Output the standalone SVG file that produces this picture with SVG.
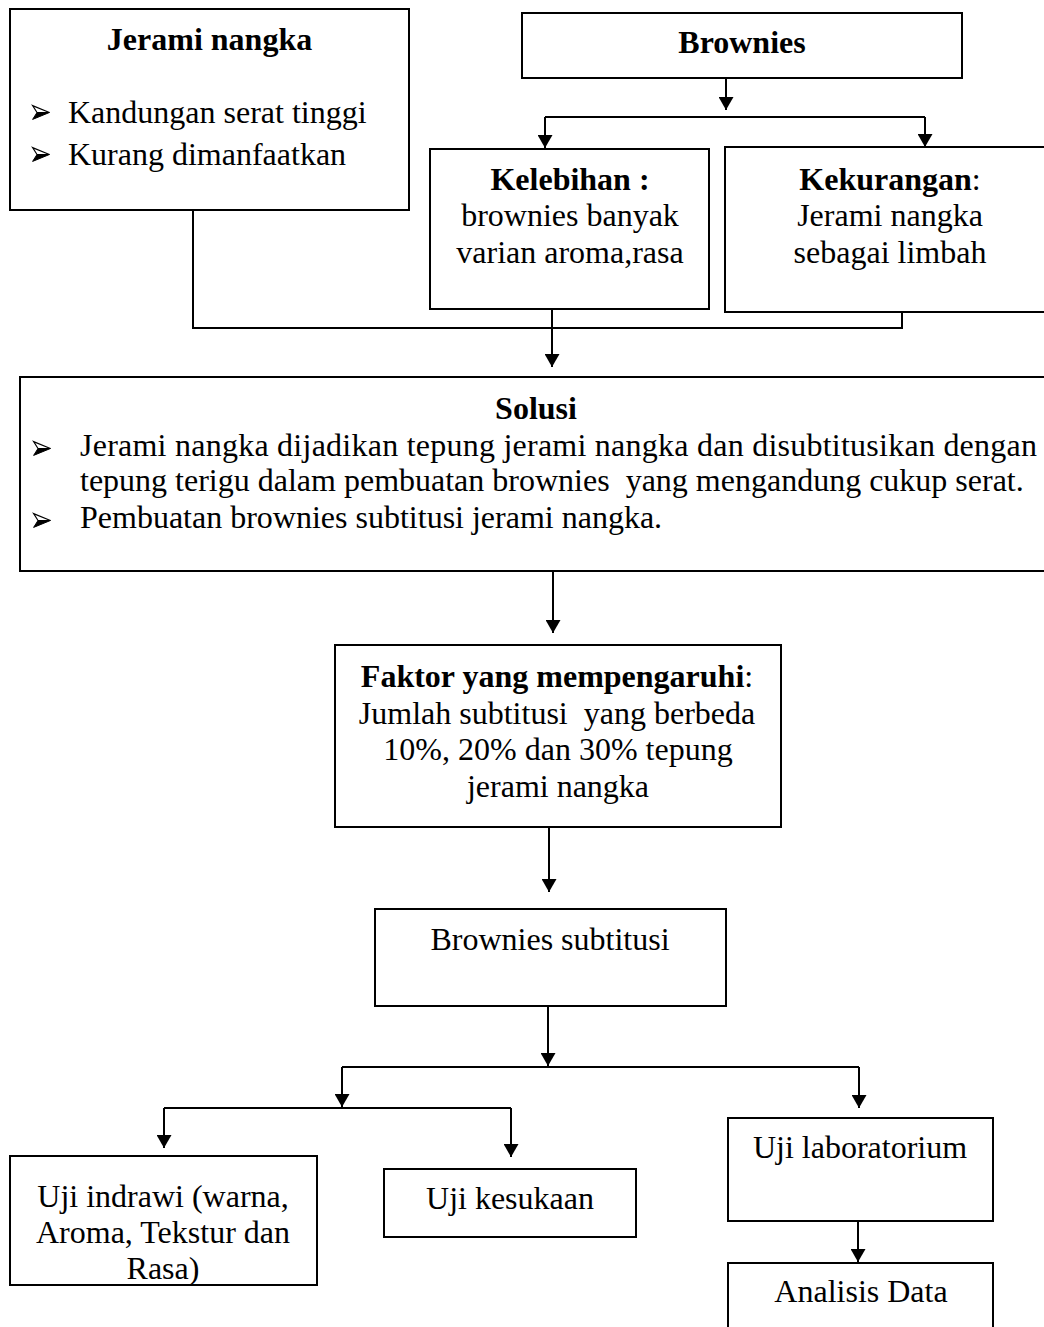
<svg xmlns="http://www.w3.org/2000/svg" width="1044" height="1327" viewBox="0 0 1044 1327">
  <style>
    .box { fill: #ffffff; stroke: #000000; stroke-width: 2; }
    .t { font-family: "Liberation Serif", "Times New Roman", serif; font-size: 32px; fill: #000000; }
    .c { text-anchor: middle; }
    .b { font-weight: bold; }
    .wire { fill: none; stroke: #000000; stroke-width: 2; }
    .arrow { marker-end: url(#head); }
  </style>
  <defs>
    <marker id="head" viewBox="0 0 13 15" markerWidth="13" markerHeight="15" refX="13" refY="7.5" orient="auto" markerUnits="userSpaceOnUse">
      <path d="M0,0 L13,7.5 L0,15 z" fill="#000000"/>
    </marker>
    <!-- list bullet: right-pointing 3D arrowhead -->
    <symbol id="bullet" viewBox="0 0 18 15" overflow="visible">
      <path d="M0.6,0.6 L17.4,7.5 L5,7.5 z" fill="#ffffff" stroke="#000000" stroke-width="1.2" stroke-linejoin="miter"/>
      <path d="M5,7.5 L17.4,7.5 L0.6,14.4 z" fill="#000000" stroke="#000000" stroke-width="1"/>
    </symbol>
  </defs>

  <rect width="1044" height="1327" fill="#ffffff"/>

  <g id="connectors">
    <path class="wire arrow" d="M726,78 V110"/>
    <path class="wire" d="M545,117 H925"/>
    <path class="wire arrow" d="M545,117 V148"/>
    <path class="wire arrow" d="M925,117 V147"/>
    <path class="wire" d="M193,210 V328 H902 V312"/>
    <path class="wire arrow" d="M552,309 V367"/>
    <path class="wire arrow" d="M553,571 V633"/>
    <path class="wire arrow" d="M549,827 V892"/>
    <path class="wire arrow" d="M548,1006 V1066"/>
    <path class="wire" d="M342,1067 H859"/>
    <path class="wire arrow" d="M342,1067 V1107"/>
    <path class="wire" d="M164,1108 H511"/>
    <path class="wire arrow" d="M164,1108 V1148"/>
    <path class="wire arrow" d="M511,1108 V1157"/>
    <path class="wire arrow" d="M859,1067 V1108"/>
    <path class="wire arrow" d="M858,1221 V1262"/>
  </g>

  <g id="jerami-nangka">
    <rect class="box" x="10" y="9" width="399" height="201"/>
    <text class="t c b" x="209.5" y="50">Jerami nangka</text>
    <use href="#bullet" x="32" y="105" width="18" height="15"/>
    <text class="t" x="68" y="123">Kandungan serat tinggi</text>
    <use href="#bullet" x="32" y="147" width="18" height="15"/>
    <text class="t" x="68" y="165">Kurang dimanfaatkan</text>
  </g>

  <g id="brownies">
    <rect class="box" x="522" y="13" width="440" height="65"/>
    <text class="t c b" x="742" y="53">Brownies</text>
  </g>

  <g id="kelebihan">
    <rect class="box" x="430" y="149" width="279" height="160"/>
    <text class="t c b" x="570" y="190">Kelebihan :</text>
    <text class="t c" x="570" y="226">brownies banyak</text>
    <text class="t c" x="570" y="263">varian aroma,rasa</text>
  </g>

  <g id="kekurangan">
    <rect class="box" x="725" y="147" width="340" height="165"/>
    <text class="t c" x="890" y="190"><tspan class="b">Kekurangan</tspan>:</text>
    <text class="t c" x="890" y="226">Jerami nangka</text>
    <text class="t c" x="890" y="263">sebagai limbah</text>
  </g>

  <g id="solusi">
    <rect class="box" x="20" y="377" width="1040" height="194"/>
    <text class="t c b" x="536" y="419">Solusi</text>
    <use href="#bullet" x="33" y="441" width="18" height="15"/>
    <text class="t" x="80" y="456" textLength="957" lengthAdjust="spacing">Jerami nangka dijadikan tepung jerami nangka dan disubtitusikan dengan</text>
    <text class="t" x="80" y="491" xml:space="preserve">tepung terigu dalam pembuatan brownies  yang mengandung cukup serat.</text>
    <use href="#bullet" x="33" y="513" width="18" height="15"/>
    <text class="t" x="80" y="528">Pembuatan brownies subtitusi jerami nangka.</text>
  </g>

  <g id="faktor">
    <rect class="box" x="335" y="645" width="446" height="182"/>
    <text class="t c" x="557" y="687"><tspan class="b">Faktor yang mempengaruhi</tspan>:</text>
    <text class="t c" x="557" y="724" xml:space="preserve">Jumlah subtitusi  yang berbeda</text>
    <text class="t c" x="558" y="760">10%, 20% dan 30% tepung</text>
    <text class="t c" x="558" y="797">jerami nangka</text>
  </g>

  <g id="brownies-subtitusi">
    <rect class="box" x="375" y="909" width="351" height="97"/>
    <text class="t c" x="550" y="950">Brownies subtitusi</text>
  </g>

  <g id="uji-indrawi">
    <rect class="box" x="10" y="1156" width="307" height="129"/>
    <text class="t c" x="163" y="1207">Uji indrawi (warna,</text>
    <text class="t c" x="163" y="1243">Aroma, Tekstur dan</text>
    <text class="t c" x="163" y="1279">Rasa)</text>
  </g>

  <g id="uji-kesukaan">
    <rect class="box" x="384" y="1169" width="252" height="68"/>
    <text class="t c" x="510" y="1209">Uji kesukaan</text>
  </g>

  <g id="uji-laboratorium">
    <rect class="box" x="728" y="1118" width="265" height="103"/>
    <text class="t c" x="860" y="1158">Uji laboratorium</text>
  </g>

  <g id="analisis-data">
    <rect class="box" x="728" y="1263" width="265" height="80"/>
    <text class="t c" x="861" y="1302">Analisis Data</text>
  </g>
</svg>
